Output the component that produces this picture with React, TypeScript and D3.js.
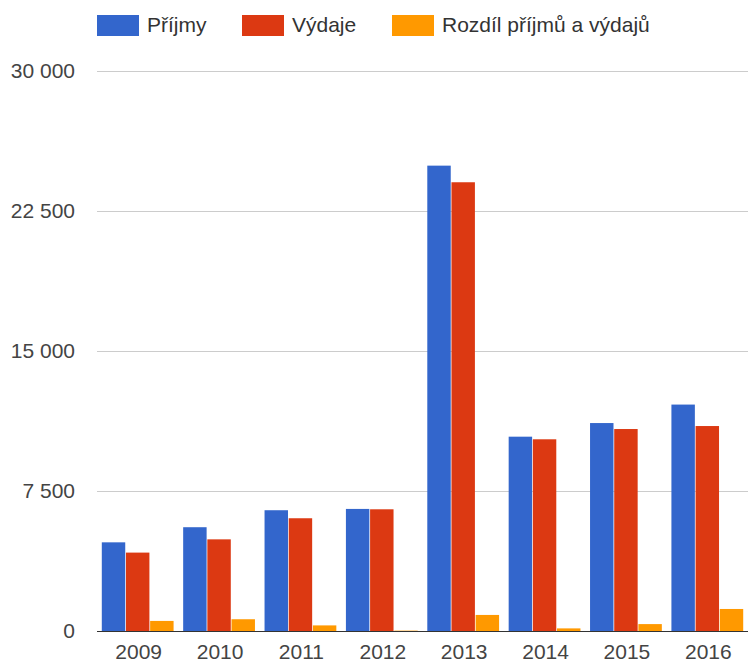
import React, { useRef, useEffect } from "react";
import * as d3 from "d3";

const years = ["2009", "2010", "2011", "2012", "2013", "2014", "2015", "2016"];
const prijmy = [4750, 5560, 6470, 6540, 24930, 10410, 11140, 12130];
const vydaje = [4200, 4910, 6040, 6520, 24040, 10270, 10820, 10980];
const rozdil = [540, 630, 300, 20, 860, 140, 370, 1180];
const seriesNames = ["Příjmy", "Výdaje", "Rozdíl příjmů a výdajů"];
const colors = ["#3366cc", "#dc3912", "#ff9900"];
const yTicks = [0, 7500, 15000, 22500, 30000];

const W = 749;
const H = 663;

const fmt = (v: number) => d3.format(",")(v).replace(/,/g, " ");

const App = () => {
  const svgRef = useRef<SVGSVGElement>(null);

  useEffect(() => {
    if (!svgRef.current) return;
    const svg = d3.select(svgRef.current);
    svg.selectAll("*").remove();

    const margin = { top: 71, right: 1, bottom: 32, left: 97 };
    const width = W - margin.left - margin.right;
    const height = H - margin.top - margin.bottom;
    const font = "'Liberation Sans', Arial, sans-serif";

    const chart = svg
      .append("g")
      .attr("transform", `translate(${margin.left},${margin.top})`);

    const x0 = d3.scaleBand().domain(years).range([0, width]).paddingInner(0.1).paddingOuter(0.05);
    const x1 = d3.scaleBand().domain(["0", "1", "2"]).range([0, x0.bandwidth()]).padding(0.03);
    const y = d3.scaleLinear().domain([0, 30000]).range([height, 0]);

    // gridlines
    chart
      .selectAll(".grid")
      .data(yTicks.slice(1))
      .enter()
      .append("line")
      .attr("x1", 0)
      .attr("x2", width)
      .attr("y1", (d) => Math.round(y(d)) + 0.5)
      .attr("y2", (d) => Math.round(y(d)) + 0.5)
      .attr("stroke", "#cccccc")
      .attr("stroke-width", 1);

    // y labels
    svg
      .append("g")
      .selectAll("text")
      .data(yTicks)
      .enter()
      .append("text")
      .attr("x", 75)
      .attr("y", (d) => margin.top + y(d))
      .attr("dy", "0.35em")
      .attr("text-anchor", "end")
      .style("font-family", font)
      .style("font-size", "21px")
      .attr("fill", "#444")
      .text((d) => fmt(d));

    const allSeries = [prijmy, vydaje, rozdil];
    const groups = chart
      .selectAll(".year")
      .data(years)
      .enter()
      .append("g")
      .attr("transform", (d) => `translate(${x0(d)},0)`);

    groups
      .selectAll("rect")
      .data((_, i) => allSeries.map((s, k) => ({ k, v: s[i] })))
      .enter()
      .append("rect")
      .attr("x", (d) => x1(String(d.k)) as number)
      .attr("width", x1.bandwidth())
      .attr("y", (d) => y(d.v))
      .attr("height", (d) => height - y(d.v))
      .attr("fill", (d) => colors[d.k]);

    // baseline
    chart
      .append("line")
      .attr("x1", 0)
      .attr("x2", width)
      .attr("y1", height + 0.5)
      .attr("y2", height + 0.5)
      .attr("stroke", "#333")
      .attr("stroke-width", 1);

    // x labels (the reference crops them at the bottom edge)
    chart
      .selectAll(".xl")
      .data(years)
      .enter()
      .append("text")
      .attr("x", (d) => (x0(d) as number) + x0.bandwidth() / 2 + 1)
      .attr("y", height + 28)
      .attr("text-anchor", "middle")
      .style("font-family", font)
      .style("font-size", "21px")
      .attr("fill", "#444")
      .text((d) => d);

    // legend
    const legendX = [97, 242, 392];
    const legend = svg
      .append("g")
      .selectAll("g")
      .data(seriesNames)
      .enter()
      .append("g")
      .attr("transform", (_, i) => `translate(${legendX[i]},15)`);

    legend
      .append("rect")
      .attr("width", 42)
      .attr("height", 21)
      .attr("fill", (_, i) => colors[i]);

    legend
      .append("text")
      .attr("x", 50)
      .attr("y", 10)
      .attr("dy", "0.35em")
      .style("font-family", font)
      .style("font-size", "21px")
      .attr("fill", "#333")
      .text((d) => d);
  }, []);

  return (
    <svg
      ref={svgRef}
      width={W}
      height={H}
      style={{ position: "absolute", left: 0, top: 0, background: "#fff" }}
    ></svg>
  );
};

export default App;
